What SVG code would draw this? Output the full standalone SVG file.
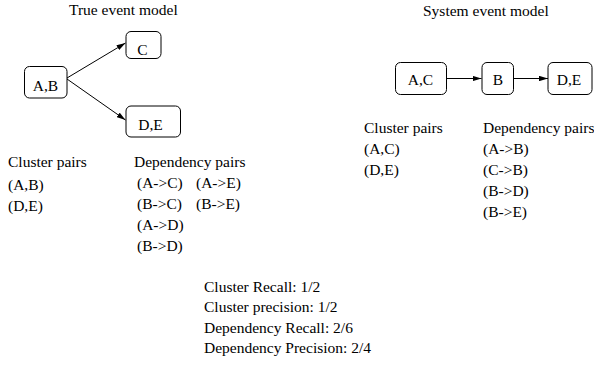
<svg xmlns="http://www.w3.org/2000/svg" width="594" height="369" viewBox="0 0 594 369">
<defs>
<style>
text{font-family:"Liberation Serif","Times New Roman",serif;font-size:15.5px;fill:#000}
.n rect{fill:#fff;stroke:#000;stroke-width:1}
.n text{text-anchor:middle}
.c line{stroke:#000;stroke-width:1}
</style>
<marker id="ah" viewBox="0 0 10 6" refX="10" refY="3" markerWidth="9" markerHeight="5.4" markerUnits="userSpaceOnUse" orient="auto">
<path d="M0,0 L10,3 L0,6 z" fill="#000"/>
</marker>
</defs>
<rect width="594" height="369" fill="#fff"/>
<text x="69" y="15">True event model</text>
<text x="423" y="16">System event model</text>
<g class="c">
<line x1="67" y1="78" x2="125.5" y2="43" marker-end="url(#ah)"/>
<line x1="67" y1="79" x2="125.5" y2="120" marker-end="url(#ah)"/>
<line x1="446.5" y1="78.5" x2="481.5" y2="78.5" marker-end="url(#ah)"/>
<line x1="513.5" y1="78.5" x2="548" y2="78.5" marker-end="url(#ah)"/>
</g>
<g id="nodeAB" class="n"><rect x="24.5" y="66.5" width="42.5" height="31.5" rx="5"/><text x="45.5" y="91">A,B</text></g>
<g id="nodeC" class="n"><rect x="126" y="31.5" width="35" height="27" rx="5"/><text x="142.5" y="55">C</text></g>
<g id="nodeDE" class="n"><rect x="126" y="106" width="54.5" height="31" rx="5"/><text x="150.5" y="130">D,E</text></g>
<g id="nodeAC" class="n"><rect x="395.5" y="62.5" width="51" height="32" rx="5"/><text x="420.5" y="85">A,C</text></g>
<g id="nodeB" class="n"><rect x="482" y="62.5" width="31.5" height="32" rx="5"/><text x="498" y="85">B</text></g>
<g id="nodeDE2" class="n"><rect x="548" y="62.5" width="44" height="32" rx="5"/><text x="569" y="85">D,E</text></g>
<g id="lists">
<text x="8" y="167">Cluster pairs</text>
<text x="8" y="189.5">(A,B)</text>
<text x="8" y="210.5">(D,E)</text>
<text x="134" y="167">Dependency pairs</text>
<text x="137" y="187.5">(A-&gt;C)</text>
<text x="196" y="187.5">(A-&gt;E)</text>
<text x="137" y="208.5">(B-&gt;C)</text>
<text x="196" y="208.5">(B-&gt;E)</text>
<text x="137" y="230">(A-&gt;D)</text>
<text x="137" y="251">(B-&gt;D)</text>
<text x="364" y="133">Cluster pairs</text>
<text x="364" y="154">(A,C)</text>
<text x="364" y="175">(D,E)</text>
<text x="483" y="133">Dependency pairs</text>
<text x="483" y="154">(A-&gt;B)</text>
<text x="483" y="175">(C-&gt;B)</text>
<text x="483" y="196">(B-&gt;D)</text>
<text x="483" y="217">(B-&gt;E)</text>
<text x="204" y="291.5">Cluster Recall: 1/2</text>
<text x="204" y="312">Cluster precision: 1/2</text>
<text x="204" y="332.5">Dependency Recall: 2/6</text>
<text x="204" y="353">Dependency Precision: 2/4</text>
</g>
</svg>
